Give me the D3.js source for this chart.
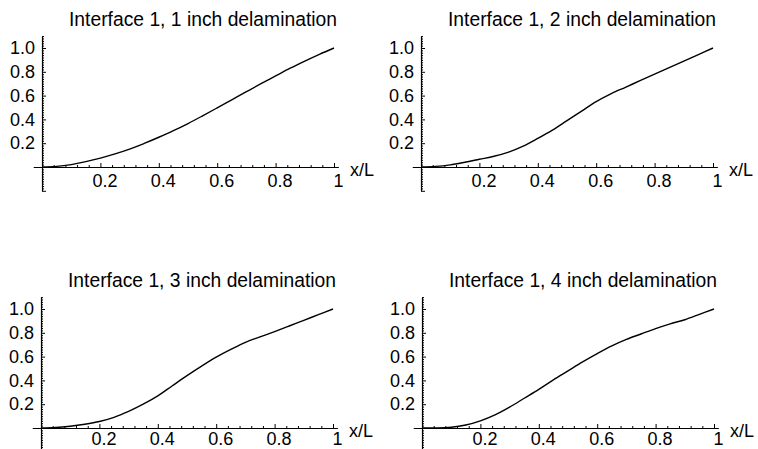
<!DOCTYPE html>
<html>
<head>
<meta charset="utf-8">
<script src="https://cdn.jsdelivr.net/npm/d3@7"></script>
<style>
  body { margin: 0; background: #fff; }
  text { font-family: "Liberation Sans", Arial, Helvetica, sans-serif; fill: #000; }
</style>
</head>
<body>
<script>
// data
var titles = ["Interface 1, 1 inch delamination", "Interface 1, 2 inch delamination",
              "Interface 1, 3 inch delamination", "Interface 1, 4 inch delamination"];
var xs = [0, .05, .1, .15, .2, .25, .3, .35, .4, .45, .5, .55, .6, .65, .7, .75, .8, .85, .9, .95, 1];
var y1 = [0, .005, .02, .045, .075, .11, .15, .198, .25, .305, .365, .43, .497, .565, .633, .7, .765, .83, .89, .947, 1];
var y2 = [0, .005, .018, .04, .065, .09, .125, .175, .24, .31, .39, .47, .55, .615, .67, .725, .78, .835, .89, .945, 1];
var y3 = [0, .004, .015, .032, .055, .09, .14, .2, .27, .355, .44, .52, .595, .66, .72, .765, .81, .857, .905, .952, 1];
var y4 = [0, 0, .006, .025, .06, .11, .175, .25, .325, .405, .48, .555, .625, .69, .745, .79, .835, .875, .91, .955, 1];
var xTicks = [0.2, 0.4, 0.6, 0.8, 1];
var xTickLabels = ["0.2", "0.4", "0.6", "0.8", "1"];
var yTicks = [0.2, 0.4, 0.6, 0.8, 1.0];
var yTickLabels = ["0.2", "0.4", "0.6", "0.8", "1.0"];

var W = 758, H = 449;
var svg = d3.select("body").append("svg").attr("width", W).attr("height", H);

// panel origins (pixel of x=0,y=0); bottom row labels sit a bit higher to stay inside
var panels = [
  { ox: 42,  oy: 167, ys: y1, pad: 7 },
  { ox: 421, oy: 167, ys: y2, pad: 7 },
  { ox: 41,  oy: 428, ys: y3, pad: 4 },
  { ox: 422, oy: 428, ys: y4, pad: 4 }
];
var pw = 292, ph = 119;

panels.forEach(function (p, i) {
  var g = svg.append("g");
  var x = d3.scaleLinear().domain([0, 1]).range([p.ox, p.ox + pw]);
  var y = d3.scaleLinear().domain([0, 1]).range([p.oy, p.oy - ph]);

  // axis scales extended past the data range, like the original
  var xa = d3.scaleLinear().domain([-0.03, 1.015]).range([x(-0.03), x(1.015)]);
  var ya = d3.scaleLinear().domain([-0.2, 1.1]).range([y(-0.2), y(1.1)]);

  // minor ticks
  var xMinor = d3.range(0, 1.001, 0.04).filter(function (v) { return Math.abs(v / 0.2 - Math.round(v / 0.2)) > 1e-6; });
  var yMinor = d3.range(-0.2, 1.101, 0.02).filter(function (v) { return Math.abs(v / 0.2 - Math.round(v / 0.2)) > 1e-6; });

  g.append("g").attr("transform", "translate(0," + p.oy + ")")
    .call(d3.axisBottom(xa).tickValues(xMinor).tickSize(-2).tickSizeOuter(0).tickFormat(""))
    .call(function (s) { s.select(".domain").remove(); });
  g.append("g").attr("transform", "translate(" + p.ox + ",0)")
    .call(d3.axisLeft(ya).tickValues(yMinor).tickSize(-2).tickSizeOuter(0).tickFormat(""))
    .call(function (s) { s.select(".domain").remove(); });

  // major x axis
  var gx = g.append("g").attr("transform", "translate(0," + p.oy + ")")
    .call(d3.axisBottom(xa).tickValues(xTicks).tickSize(-4).tickSizeOuter(0).tickPadding(p.pad)
      .tickFormat(function (d, k) { return xTickLabels[k]; }));
  gx.selectAll("text").attr("font-size", 18).attr("dx", 4).style("font-family", null);

  // major y axis
  var gy = g.append("g").attr("transform", "translate(" + p.ox + ",0)")
    .call(d3.axisLeft(ya).tickValues([-0.2, 0].concat(yTicks)).tickSize(-4).tickSizeOuter(0).tickPadding(7)
      .tickFormat(function (d) { var k = yTicks.indexOf(d); return k < 0 ? "" : yTickLabels[k]; }));
  gy.selectAll("text").attr("font-size", 18).style("font-family", null);

  g.selectAll(".domain").attr("stroke", "#000").attr("stroke-width", 1.2);
  g.selectAll(".tick line").attr("stroke", "#000").attr("stroke-width", 1);

  // axis label
  g.append("text").attr("x", x(1) + 16).attr("y", p.oy + 8.5)
    .attr("font-size", 18).text("x/L");

  // title
  g.append("text").attr("x", p.ox + 161).attr("y", p.oy - 141)
    .attr("text-anchor", "middle").attr("font-size", 19.3).text(titles[i]);

  // curve
  var line = d3.line()
    .x(function (d, k) { return x(xs[k]); })
    .y(function (d) { return y(d); })
    .curve(d3.curveCatmullRom.alpha(0.5));
  g.append("path").datum(p.ys)
    .attr("d", line)
    .attr("fill", "none").attr("stroke", "#000").attr("stroke-width", 1.4);
});
</script>
</body>
</html>
